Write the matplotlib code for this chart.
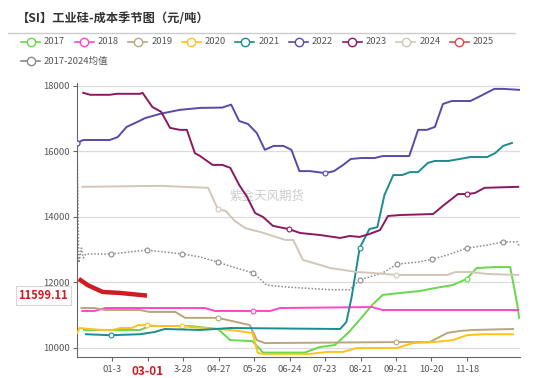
import matplotlib
matplotlib.use("Agg")
import matplotlib.pyplot as plt
from matplotlib.lines import Line2D
import matplotlib.transforms as mtransforms

plt.rcParams['font.family'] = ['Noto Sans CJK SC', 'DejaVu Sans']

# --- data (x = week index on a category axis) ---
tick_pos = [4, 8, 12, 16, 20, 24, 28, 32, 36, 40, 44]
tick_labels = ["01-3", "03-01", "3-28", "04-27", "05-26", "06-24",
               "07-23", "08-21", "09-21", "10-20", "11-18"]

x17 = [0.8, 7.1, 8.2, 12.8, 15.9, 17.3, 19.8, 21.0, 25.7, 27.4, 29.1, 30.6, 31.9,
       33.3, 34.5, 36.5, 38.7, 40.4, 42.4, 44.0, 45.1, 47.2, 48.9, 49.7, 49.9]
y17 = [10550, 10550, 10670, 10670, 10580, 10240, 10210, 9860, 9860, 10030, 10090, 10460, 10860,
       11310, 11620, 11680, 11740, 11830, 11920, 12110, 12440, 12470, 12470, 11310, 10920]

x18 = [0.6, 2.0, 3.2, 14.4, 15.6, 19.9, 21.8, 22.9, 33.3, 34.5, 49.8]
y18 = [11130, 11130, 11220, 11220, 11130, 11130, 11130, 11220, 11250, 11160, 11160]

x19 = [0.5, 2.0, 3.2, 7.1, 8.2, 11.1, 12.2, 15.9, 19.5, 20.3, 21.2, 36.0, 39.8,
       41.8, 43.2, 44.7, 49.2]
y19 = [11220, 11220, 11160, 11160, 11100, 11100, 10920, 10920, 10700, 10240, 10150, 10180, 10180,
       10460, 10520, 10550, 10580]

x20 = [0, 0.3, 1.5, 2.9, 4.0, 4.9, 6.2, 6.9, 7.9, 9.0, 11.9, 12.8, 15.9, 17.3, 19.8,
       20.4, 21.0, 26.3, 28.2, 30.0, 31.6, 36.1, 37.9, 40.2, 42.4, 44.0, 45.8, 49.2]
y20 = [10460, 10610, 10580, 10550, 10550, 10610, 10610, 10700, 10700, 10670, 10670, 10640, 10580, 10550, 10460,
       9850, 9820, 9820, 9880, 9880, 10000, 10000, 10150, 10180, 10240, 10390, 10420, 10420]

x21 = [1.0, 3.8, 7.1, 8.8, 9.9, 13.9, 17.3, 29.7, 30.4, 31.0, 31.9, 33.0, 33.9, 34.7,
       35.7, 36.7, 37.6, 38.5, 39.6, 40.4, 41.9, 43.2, 44.4, 46.3, 47.2, 48.1, 49.1]
y21 = [10420, 10390, 10420, 10490, 10580, 10550, 10610, 10580, 10790, 11560, 13050, 13630, 13690, 14670,
       15280, 15280, 15370, 15370, 15650, 15710, 15710, 15770, 15830, 15830, 15950, 16170, 16260]

x22 = [0, 0.7, 3.7, 4.6, 5.6, 6.8, 7.7, 9.4, 11.6, 13.9, 16.4, 17.4, 18.3, 19.3, 20.3,
       21.2, 22.2, 23.3, 24.2, 25.1, 26.3, 28.0, 29.0, 30.0, 30.9, 32.1, 33.6, 34.5,
       37.5, 38.5, 39.5, 40.4, 41.3, 42.3, 44.4, 45.3, 47.1, 48.1, 50.0]
y22 = [16260, 16350, 16350, 16440, 16750, 16900, 17020, 17150, 17270, 17330, 17340, 17430, 16930, 16840, 16560,
       16050, 16170, 16170, 16050, 15400, 15400, 15340, 15400, 15580, 15770, 15800, 15800, 15860,
       15860, 16660, 16660, 16750, 17450, 17540, 17540, 17660, 17910, 17910, 17880]

x23 = [0.7, 1.5, 3.7, 4.5, 7.1, 7.4, 8.5, 9.5, 10.5, 11.6, 12.4, 13.3, 13.9, 15.3, 16.4,
       17.3, 18.3, 19.2, 20.1, 21.0, 22.1, 23.9, 25.2, 27.4, 29.7, 30.8, 31.9, 33.0,
       34.2, 35.1, 36.5, 40.2, 41.3, 43.0, 44.0, 44.9, 46.0, 49.8]
y23 = [17790, 17730, 17730, 17760, 17760, 17790, 17360, 17210, 16720, 16660, 16660, 15950, 15860, 15590, 15590,
       15500, 14980, 14610, 14120, 14000, 13730, 13630, 13510, 13450, 13360, 13420, 13390, 13480,
       13600, 14030, 14060, 14090, 14340, 14700, 14700, 14730, 14890, 14920]

x24 = [0.6, 9.4, 14.8, 15.9, 16.8, 17.8, 19.0, 20.7, 23.5, 24.4, 25.5, 28.6, 31.6, 33.4,
       36.0, 41.8, 42.7, 44.4, 46.3, 49.8]
y24 = [14920, 14950, 14890, 14240, 14180, 13880, 13660, 13540, 13300, 13300, 12690, 12440, 12320, 12290,
       12230, 12230, 12320, 12320, 12260, 12230]

x25 = [0.2, 1.2, 2.9, 4.9, 6.0, 7.9]
y25 = [12110, 11920, 11710, 11680, 11650, 11599.11]

x_avg = [0, 0.2, 0.5, 0.7, 1.0, 3.8, 7.9, 11.9, 13.9, 15.9, 17.6, 19.9, 21.4, 23.7, 28.6,
         30.8, 31.9, 34.5, 36.1, 38.4, 40.1, 41.8, 44.0, 46.3, 48.1, 49.7, 49.9]
y_avg = [16260, 12600, 13050, 12750, 12870, 12870, 12990, 12870, 12780, 12620, 12470, 12290, 11920, 11860, 11780,
         11780, 12080, 12290, 12560, 12620, 12710, 12840, 13050, 13140, 13240, 13240, 13110]

series = [
    ("2017", x17, y17, "#66d94a", [19]),
    ("2018", x18, y18, "#ff45c8", [5]),
    ("2019", x19, y19, "#b9a77c", [7, 11]),
    ("2020", x20, y20, "#ffc21a", [8, 10]),
    ("2021", x21, y21, "#1b8c90", [1, 10]),
    ("2022", x22, y22, "#5a48aa", [0, 21]),
    ("2023", x23, y23, "#8a1862", [21, 34]),
    ("2024", x24, y24, "#d2c6b6", [3, 14]),
]

fig = plt.figure(figsize=(5.5, 3.78), dpi=100)
ax = fig.add_axes([77 / 550, 21 / 378, 443 / 550, 274 / 378])

for y in [10000, 12000, 14000, 16000, 18000]:
    ax.axhline(y, color="#dcdcdc", lw=0.9, zorder=0)

ax.plot(x_avg, y_avg, color="#8a8a8a", lw=1.1, ls=(0, (1, 1.2)), marker="o", ms=3.5,
        mfc="white", mew=0.8, markevery=[0, 5, 6, 7, 9, 11, 16, 18, 20, 22, 24], zorder=2)

for name, xs, ys, col, marks in series:
    ax.plot(xs, ys, color=col, lw=1.4, marker="o", ms=3.5, mfc="white", mew=0.8,
            markevery=marks, zorder=3)

ax.plot(x25, y25, color="#d11a22", lw=3.2, solid_capstyle="butt", zorder=5)

ax.set_xlim(0, 50)
ax.set_ylim(9725, 18090)
ax.set_yticks([10000, 12000, 14000, 16000, 18000])
ax.set_xticks(tick_pos)
ax.set_xticklabels(tick_labels)
for spine in ["top", "right"]:
    ax.spines[spine].set_visible(False)
ax.spines["left"].set_color("#666666")
ax.spines["bottom"].set_color("#666666")
ax.tick_params(axis="y", labelsize=6.8, colors="#666666", length=3, pad=2)
ax.tick_params(axis="x", labelsize=6.8, colors="#666666", length=3, pad=3)
for lab in ax.get_yticklabels():
    lab.set_color("#555555")
for lab in ax.get_xticklabels():
    lab.set_color("#555555")
    if lab.get_text() == "03-01":
        lab.set_color("#d11a22")
        lab.set_fontweight("bold")
        lab.set_fontsize(8.5)

# last value label on the y axis
trans = mtransforms.blended_transform_factory(ax.transAxes, ax.transData)
ax.text(-0.02, y25[-1], f"{y25[-1]:.2f}", transform=trans, ha="right", va="center",
        fontsize=8, fontweight="bold", color="#d11a22", zorder=10,
        bbox=dict(boxstyle="square,pad=0.25", fc="white", ec="#d8d8d8", lw=0.8))

# watermark
ax.text(0.345, 0.585, "紫金天风期货", transform=ax.transAxes, fontsize=9,
        color="#cccccc", ha="left", va="center", zorder=1)

# title and divider
fig.text(17 / 550, 1 - 19 / 378, "【SI】工业硅-成本季节图（元/吨）", fontsize=8.8,
         fontweight="bold", color="#333333", va="center", ha="left")
fig.add_artist(Line2D([8 / 550, 515 / 550], [1 - 33 / 378, 1 - 33 / 378],
                      transform=fig.transFigure, color="#cccccc", lw=1))


def legend_item(x_px, y_px, name, col):
    x0 = x_px / 550
    yy = 1 - y_px / 378
    fig.add_artist(Line2D([x0, x0 + 19 / 550], [yy, yy], transform=fig.transFigure,
                          color=col, lw=1.2))
    fig.add_artist(Line2D([x0 + 9.5 / 550], [yy], transform=fig.transFigure,
                          color=col, lw=0, marker="o", ms=6, mfc="white", mew=1))
    fig.text(x0 + 23 / 550, yy, name, fontsize=6.8, color="#555555", va="center", ha="left")


leg_items = [(n, c) for n, _, _, c, _ in series] + [("2025", "#e0484f")]
for i, (name, col) in enumerate(leg_items):
    legend_item(21 + i * 53.6, 42, name, col)
legend_item(21, 61, "2017-2024均值", "#8a8a8a")

fig.savefig("out.png", dpi=100)
